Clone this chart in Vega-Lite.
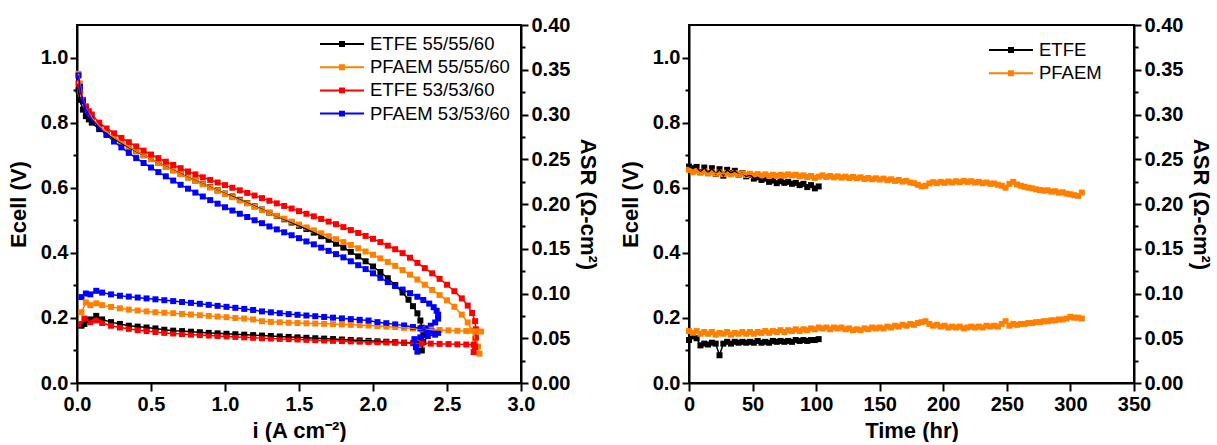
{
"$schema": "https://vega.github.io/schema/vega-lite/v6.json",
"padding": {"left": 6, "top": 14, "right": 0, "bottom": 0},
"spacing": 18,
"config": {
  "view": {"stroke": "black", "strokeWidth": 2},
  "axis": {"domainColor": "black", "domainWidth": 2, "tickColor": "black", "tickWidth": 2, "grid": false,
    "labelFont": "Liberation Sans", "labelFontWeight": "bold", "labelFontSize": 20, "labelColor": "black",
    "titleFont": "Liberation Sans", "titleFontWeight": "bold", "titleFontSize": 22, "titleColor": "black",
    "labelOverlap": false, "labelFlush": false, "labelBound": false},
  "legend": {"labelFont": "Liberation Sans", "labelFontSize": 18.5, "labelColor": "black", "title": null,
    "symbolType": "M-2,-0.09H2V0.09H-2Z M-0.27,-0.27H0.27V0.27H-0.27Z", "symbolSize": 484, "symbolStrokeWidth": 0,
    "symbolOffset": 11, "labelOffset": 17, "rowPadding": 2.2, "orient": "none"}
},
"datasets": {
"pol": [
{"s":"ETFE 55/55/60","i":0.01,"E":0.90,"k":0},{"s":"ETFE 55/55/60","i":0.02,"E":0.87,"k":1},{"s":"ETFE 55/55/60","i":0.04,"E":0.84,"k":2},{"s":"ETFE 55/55/60","i":0.06,"E":0.82,"k":3},{"s":"ETFE 55/55/60","i":0.08,"E":0.81,"k":4},{"s":"ETFE 55/55/60","i":0.10,"E":0.80,"k":5},{"s":"ETFE 55/55/60","i":0.15,"E":0.78,"k":6},{"s":"ETFE 55/55/60","i":0.20,"E":0.765,"k":7},{"s":"ETFE 55/55/60","i":0.25,"E":0.75,"k":8},{"s":"ETFE 55/55/60","i":0.30,"E":0.737,"k":9},{"s":"ETFE 55/55/60","i":0.35,"E":0.724,"k":10},{"s":"ETFE 55/55/60","i":0.40,"E":0.712,"k":11},{"s":"ETFE 55/55/60","i":0.45,"E":0.70,"k":12},{"s":"ETFE 55/55/60","i":0.50,"E":0.688,"k":13},{"s":"ETFE 55/55/60","i":0.55,"E":0.676,"k":14},{"s":"ETFE 55/55/60","i":0.60,"E":0.665,"k":15},{"s":"ETFE 55/55/60","i":0.65,"E":0.654,"k":16},{"s":"ETFE 55/55/60","i":0.70,"E":0.643,"k":17},{"s":"ETFE 55/55/60","i":0.75,"E":0.632,"k":18},{"s":"ETFE 55/55/60","i":0.80,"E":0.622,"k":19},{"s":"ETFE 55/55/60","i":0.85,"E":0.612,"k":20},{"s":"ETFE 55/55/60","i":0.90,"E":0.602,"k":21},{"s":"ETFE 55/55/60","i":0.95,"E":0.592,"k":22},{"s":"ETFE 55/55/60","i":1.00,"E":0.582,"k":23},{"s":"ETFE 55/55/60","i":1.05,"E":0.573,"k":24},{"s":"ETFE 55/55/60","i":1.10,"E":0.563,"k":25},{"s":"ETFE 55/55/60","i":1.15,"E":0.553,"k":26},{"s":"ETFE 55/55/60","i":1.20,"E":0.543,"k":27},{"s":"ETFE 55/55/60","i":1.25,"E":0.533,"k":28},{"s":"ETFE 55/55/60","i":1.30,"E":0.523,"k":29},{"s":"ETFE 55/55/60","i":1.35,"E":0.513,"k":30},{"s":"ETFE 55/55/60","i":1.40,"E":0.503,"k":31},{"s":"ETFE 55/55/60","i":1.45,"E":0.493,"k":32},{"s":"ETFE 55/55/60","i":1.50,"E":0.483,"k":33},{"s":"ETFE 55/55/60","i":1.55,"E":0.473,"k":34},{"s":"ETFE 55/55/60","i":1.60,"E":0.462,"k":35},{"s":"ETFE 55/55/60","i":1.65,"E":0.451,"k":36},{"s":"ETFE 55/55/60","i":1.70,"E":0.440,"k":37},{"s":"ETFE 55/55/60","i":1.75,"E":0.428,"k":38},{"s":"ETFE 55/55/60","i":1.80,"E":0.416,"k":39},{"s":"ETFE 55/55/60","i":1.85,"E":0.403,"k":40},{"s":"ETFE 55/55/60","i":1.90,"E":0.389,"k":41},{"s":"ETFE 55/55/60","i":1.95,"E":0.374,"k":42},{"s":"ETFE 55/55/60","i":2.00,"E":0.358,"k":43},{"s":"ETFE 55/55/60","i":2.05,"E":0.341,"k":44},{"s":"ETFE 55/55/60","i":2.10,"E":0.322,"k":45},{"s":"ETFE 55/55/60","i":2.15,"E":0.301,"k":46},{"s":"ETFE 55/55/60","i":2.20,"E":0.278,"k":47},{"s":"ETFE 55/55/60","i":2.24,"E":0.256,"k":48},{"s":"ETFE 55/55/60","i":2.27,"E":0.236,"k":49},{"s":"ETFE 55/55/60","i":2.30,"E":0.214,"k":50},{"s":"ETFE 55/55/60","i":2.32,"E":0.192,"k":51},{"s":"ETFE 55/55/60","i":2.33,"E":0.170,"k":52},{"s":"ETFE 55/55/60","i":2.34,"E":0.148,"k":53},{"s":"ETFE 55/55/60","i":2.34,"E":0.126,"k":54},{"s":"ETFE 55/55/60","i":2.33,"E":0.100,"k":55},
{"s":"PFAEM 55/55/60","i":0.01,"E":0.95,"k":0},{"s":"PFAEM 55/55/60","i":0.02,"E":0.92,"k":1},{"s":"PFAEM 55/55/60","i":0.04,"E":0.87,"k":2},{"s":"PFAEM 55/55/60","i":0.06,"E":0.845,"k":3},{"s":"PFAEM 55/55/60","i":0.08,"E":0.83,"k":4},{"s":"PFAEM 55/55/60","i":0.10,"E":0.815,"k":5},{"s":"PFAEM 55/55/60","i":0.15,"E":0.79,"k":6},{"s":"PFAEM 55/55/60","i":0.20,"E":0.772,"k":7},{"s":"PFAEM 55/55/60","i":0.25,"E":0.755,"k":8},{"s":"PFAEM 55/55/60","i":0.30,"E":0.74,"k":9},{"s":"PFAEM 55/55/60","i":0.35,"E":0.726,"k":10},{"s":"PFAEM 55/55/60","i":0.40,"E":0.713,"k":11},{"s":"PFAEM 55/55/60","i":0.45,"E":0.70,"k":12},{"s":"PFAEM 55/55/60","i":0.50,"E":0.688,"k":13},{"s":"PFAEM 55/55/60","i":0.55,"E":0.676,"k":14},{"s":"PFAEM 55/55/60","i":0.60,"E":0.664,"k":15},{"s":"PFAEM 55/55/60","i":0.65,"E":0.653,"k":16},{"s":"PFAEM 55/55/60","i":0.70,"E":0.642,"k":17},{"s":"PFAEM 55/55/60","i":0.75,"E":0.631,"k":18},{"s":"PFAEM 55/55/60","i":0.80,"E":0.621,"k":19},{"s":"PFAEM 55/55/60","i":0.85,"E":0.611,"k":20},{"s":"PFAEM 55/55/60","i":0.90,"E":0.601,"k":21},{"s":"PFAEM 55/55/60","i":0.95,"E":0.591,"k":22},{"s":"PFAEM 55/55/60","i":1.00,"E":0.581,"k":23},{"s":"PFAEM 55/55/60","i":1.05,"E":0.571,"k":24},{"s":"PFAEM 55/55/60","i":1.10,"E":0.561,"k":25},{"s":"PFAEM 55/55/60","i":1.15,"E":0.552,"k":26},{"s":"PFAEM 55/55/60","i":1.20,"E":0.542,"k":27},{"s":"PFAEM 55/55/60","i":1.25,"E":0.532,"k":28},{"s":"PFAEM 55/55/60","i":1.30,"E":0.523,"k":29},{"s":"PFAEM 55/55/60","i":1.35,"E":0.514,"k":30},{"s":"PFAEM 55/55/60","i":1.40,"E":0.505,"k":31},{"s":"PFAEM 55/55/60","i":1.45,"E":0.496,"k":32},{"s":"PFAEM 55/55/60","i":1.50,"E":0.487,"k":33},{"s":"PFAEM 55/55/60","i":1.55,"E":0.478,"k":34},{"s":"PFAEM 55/55/60","i":1.60,"E":0.469,"k":35},{"s":"PFAEM 55/55/60","i":1.65,"E":0.46,"k":36},{"s":"PFAEM 55/55/60","i":1.70,"E":0.451,"k":37},{"s":"PFAEM 55/55/60","i":1.75,"E":0.442,"k":38},{"s":"PFAEM 55/55/60","i":1.80,"E":0.433,"k":39},{"s":"PFAEM 55/55/60","i":1.85,"E":0.424,"k":40},{"s":"PFAEM 55/55/60","i":1.90,"E":0.414,"k":41},{"s":"PFAEM 55/55/60","i":1.95,"E":0.404,"k":42},{"s":"PFAEM 55/55/60","i":2.00,"E":0.394,"k":43},{"s":"PFAEM 55/55/60","i":2.05,"E":0.383,"k":44},{"s":"PFAEM 55/55/60","i":2.10,"E":0.372,"k":45},{"s":"PFAEM 55/55/60","i":2.15,"E":0.36,"k":46},{"s":"PFAEM 55/55/60","i":2.20,"E":0.347,"k":47},{"s":"PFAEM 55/55/60","i":2.25,"E":0.333,"k":48},{"s":"PFAEM 55/55/60","i":2.30,"E":0.318,"k":49},{"s":"PFAEM 55/55/60","i":2.35,"E":0.302,"k":50},{"s":"PFAEM 55/55/60","i":2.40,"E":0.286,"k":51},{"s":"PFAEM 55/55/60","i":2.45,"E":0.27,"k":52},{"s":"PFAEM 55/55/60","i":2.50,"E":0.254,"k":53},{"s":"PFAEM 55/55/60","i":2.55,"E":0.234,"k":54},{"s":"PFAEM 55/55/60","i":2.60,"E":0.21,"k":55},{"s":"PFAEM 55/55/60","i":2.64,"E":0.186,"k":56},{"s":"PFAEM 55/55/60","i":2.67,"E":0.161,"k":57},{"s":"PFAEM 55/55/60","i":2.69,"E":0.136,"k":58},{"s":"PFAEM 55/55/60","i":2.71,"E":0.112,"k":59},{"s":"PFAEM 55/55/60","i":2.72,"E":0.09,"k":60},
{"s":"ETFE 53/53/60","i":0.01,"E":0.92,"k":0},{"s":"ETFE 53/53/60","i":0.02,"E":0.895,"k":1},{"s":"ETFE 53/53/60","i":0.04,"E":0.87,"k":2},{"s":"ETFE 53/53/60","i":0.06,"E":0.85,"k":3},{"s":"ETFE 53/53/60","i":0.08,"E":0.835,"k":4},{"s":"ETFE 53/53/60","i":0.10,"E":0.825,"k":5},{"s":"ETFE 53/53/60","i":0.15,"E":0.80,"k":6},{"s":"ETFE 53/53/60","i":0.20,"E":0.782,"k":7},{"s":"ETFE 53/53/60","i":0.25,"E":0.767,"k":8},{"s":"ETFE 53/53/60","i":0.30,"E":0.753,"k":9},{"s":"ETFE 53/53/60","i":0.35,"E":0.74,"k":10},{"s":"ETFE 53/53/60","i":0.40,"E":0.727,"k":11},{"s":"ETFE 53/53/60","i":0.45,"E":0.714,"k":12},{"s":"ETFE 53/53/60","i":0.50,"E":0.702,"k":13},{"s":"ETFE 53/53/60","i":0.55,"E":0.691,"k":14},{"s":"ETFE 53/53/60","i":0.60,"E":0.68,"k":15},{"s":"ETFE 53/53/60","i":0.65,"E":0.67,"k":16},{"s":"ETFE 53/53/60","i":0.70,"E":0.66,"k":17},{"s":"ETFE 53/53/60","i":0.75,"E":0.65,"k":18},{"s":"ETFE 53/53/60","i":0.80,"E":0.641,"k":19},{"s":"ETFE 53/53/60","i":0.85,"E":0.632,"k":20},{"s":"ETFE 53/53/60","i":0.90,"E":0.624,"k":21},{"s":"ETFE 53/53/60","i":0.95,"E":0.616,"k":22},{"s":"ETFE 53/53/60","i":1.00,"E":0.608,"k":23},{"s":"ETFE 53/53/60","i":1.05,"E":0.60,"k":24},{"s":"ETFE 53/53/60","i":1.10,"E":0.592,"k":25},{"s":"ETFE 53/53/60","i":1.15,"E":0.584,"k":26},{"s":"ETFE 53/53/60","i":1.20,"E":0.576,"k":27},{"s":"ETFE 53/53/60","i":1.25,"E":0.568,"k":28},{"s":"ETFE 53/53/60","i":1.30,"E":0.56,"k":29},{"s":"ETFE 53/53/60","i":1.35,"E":0.552,"k":30},{"s":"ETFE 53/53/60","i":1.40,"E":0.544,"k":31},{"s":"ETFE 53/53/60","i":1.45,"E":0.536,"k":32},{"s":"ETFE 53/53/60","i":1.50,"E":0.528,"k":33},{"s":"ETFE 53/53/60","i":1.55,"E":0.52,"k":34},{"s":"ETFE 53/53/60","i":1.60,"E":0.512,"k":35},{"s":"ETFE 53/53/60","i":1.65,"E":0.504,"k":36},{"s":"ETFE 53/53/60","i":1.70,"E":0.496,"k":37},{"s":"ETFE 53/53/60","i":1.75,"E":0.488,"k":38},{"s":"ETFE 53/53/60","i":1.80,"E":0.479,"k":39},{"s":"ETFE 53/53/60","i":1.85,"E":0.47,"k":40},{"s":"ETFE 53/53/60","i":1.90,"E":0.461,"k":41},{"s":"ETFE 53/53/60","i":1.95,"E":0.452,"k":42},{"s":"ETFE 53/53/60","i":2.00,"E":0.443,"k":43},{"s":"ETFE 53/53/60","i":2.05,"E":0.433,"k":44},{"s":"ETFE 53/53/60","i":2.10,"E":0.422,"k":45},{"s":"ETFE 53/53/60","i":2.15,"E":0.411,"k":46},{"s":"ETFE 53/53/60","i":2.20,"E":0.399,"k":47},{"s":"ETFE 53/53/60","i":2.25,"E":0.385,"k":48},{"s":"ETFE 53/53/60","i":2.30,"E":0.369,"k":49},{"s":"ETFE 53/53/60","i":2.35,"E":0.353,"k":50},{"s":"ETFE 53/53/60","i":2.40,"E":0.337,"k":51},{"s":"ETFE 53/53/60","i":2.45,"E":0.32,"k":52},{"s":"ETFE 53/53/60","i":2.50,"E":0.302,"k":53},{"s":"ETFE 53/53/60","i":2.55,"E":0.282,"k":54},{"s":"ETFE 53/53/60","i":2.60,"E":0.26,"k":55},{"s":"ETFE 53/53/60","i":2.64,"E":0.238,"k":56},{"s":"ETFE 53/53/60","i":2.67,"E":0.215,"k":57},{"s":"ETFE 53/53/60","i":2.69,"E":0.19,"k":58},{"s":"ETFE 53/53/60","i":2.695,"E":0.165,"k":59},{"s":"ETFE 53/53/60","i":2.695,"E":0.14,"k":60},{"s":"ETFE 53/53/60","i":2.69,"E":0.115,"k":61},{"s":"ETFE 53/53/60","i":2.68,"E":0.095,"k":62},
{"s":"PFAEM 53/53/60","i":0.01,"E":0.945,"k":0},{"s":"PFAEM 53/53/60","i":0.02,"E":0.91,"k":1},{"s":"PFAEM 53/53/60","i":0.04,"E":0.865,"k":2},{"s":"PFAEM 53/53/60","i":0.06,"E":0.84,"k":3},{"s":"PFAEM 53/53/60","i":0.08,"E":0.825,"k":4},{"s":"PFAEM 53/53/60","i":0.10,"E":0.81,"k":5},{"s":"PFAEM 53/53/60","i":0.15,"E":0.785,"k":6},{"s":"PFAEM 53/53/60","i":0.20,"E":0.762,"k":7},{"s":"PFAEM 53/53/60","i":0.25,"E":0.742,"k":8},{"s":"PFAEM 53/53/60","i":0.30,"E":0.724,"k":9},{"s":"PFAEM 53/53/60","i":0.35,"E":0.707,"k":10},{"s":"PFAEM 53/53/60","i":0.40,"E":0.691,"k":11},{"s":"PFAEM 53/53/60","i":0.45,"E":0.676,"k":12},{"s":"PFAEM 53/53/60","i":0.50,"E":0.662,"k":13},{"s":"PFAEM 53/53/60","i":0.55,"E":0.648,"k":14},{"s":"PFAEM 53/53/60","i":0.60,"E":0.635,"k":15},{"s":"PFAEM 53/53/60","i":0.65,"E":0.622,"k":16},{"s":"PFAEM 53/53/60","i":0.70,"E":0.609,"k":17},{"s":"PFAEM 53/53/60","i":0.75,"E":0.597,"k":18},{"s":"PFAEM 53/53/60","i":0.80,"E":0.585,"k":19},{"s":"PFAEM 53/53/60","i":0.85,"E":0.573,"k":20},{"s":"PFAEM 53/53/60","i":0.90,"E":0.562,"k":21},{"s":"PFAEM 53/53/60","i":0.95,"E":0.551,"k":22},{"s":"PFAEM 53/53/60","i":1.00,"E":0.540,"k":23},{"s":"PFAEM 53/53/60","i":1.05,"E":0.530,"k":24},{"s":"PFAEM 53/53/60","i":1.10,"E":0.520,"k":25},{"s":"PFAEM 53/53/60","i":1.15,"E":0.510,"k":26},{"s":"PFAEM 53/53/60","i":1.20,"E":0.500,"k":27},{"s":"PFAEM 53/53/60","i":1.25,"E":0.491,"k":28},{"s":"PFAEM 53/53/60","i":1.30,"E":0.481,"k":29},{"s":"PFAEM 53/53/60","i":1.35,"E":0.472,"k":30},{"s":"PFAEM 53/53/60","i":1.40,"E":0.463,"k":31},{"s":"PFAEM 53/53/60","i":1.45,"E":0.454,"k":32},{"s":"PFAEM 53/53/60","i":1.50,"E":0.445,"k":33},{"s":"PFAEM 53/53/60","i":1.55,"E":0.435,"k":34},{"s":"PFAEM 53/53/60","i":1.60,"E":0.426,"k":35},{"s":"PFAEM 53/53/60","i":1.65,"E":0.416,"k":36},{"s":"PFAEM 53/53/60","i":1.70,"E":0.406,"k":37},{"s":"PFAEM 53/53/60","i":1.75,"E":0.396,"k":38},{"s":"PFAEM 53/53/60","i":1.80,"E":0.386,"k":39},{"s":"PFAEM 53/53/60","i":1.85,"E":0.374,"k":40},{"s":"PFAEM 53/53/60","i":1.90,"E":0.362,"k":41},{"s":"PFAEM 53/53/60","i":1.95,"E":0.350,"k":42},{"s":"PFAEM 53/53/60","i":2.00,"E":0.337,"k":43},{"s":"PFAEM 53/53/60","i":2.05,"E":0.323,"k":44},{"s":"PFAEM 53/53/60","i":2.10,"E":0.310,"k":45},{"s":"PFAEM 53/53/60","i":2.15,"E":0.298,"k":46},{"s":"PFAEM 53/53/60","i":2.20,"E":0.287,"k":47},{"s":"PFAEM 53/53/60","i":2.25,"E":0.276,"k":48},{"s":"PFAEM 53/53/60","i":2.30,"E":0.265,"k":49},{"s":"PFAEM 53/53/60","i":2.34,"E":0.255,"k":50},{"s":"PFAEM 53/53/60","i":2.38,"E":0.244,"k":51},{"s":"PFAEM 53/53/60","i":2.41,"E":0.233,"k":52},{"s":"PFAEM 53/53/60","i":2.43,"E":0.222,"k":53},{"s":"PFAEM 53/53/60","i":2.44,"E":0.210,"k":54},{"s":"PFAEM 53/53/60","i":2.44,"E":0.198,"k":55},{"s":"PFAEM 53/53/60","i":2.42,"E":0.186,"k":56},{"s":"PFAEM 53/53/60","i":2.39,"E":0.176,"k":57},{"s":"PFAEM 53/53/60","i":2.36,"E":0.168,"k":58}
],
"asr": [
{"s":"ETFE 55/55/60","i":0.03,"A":0.064,"k":0},{"s":"ETFE 55/55/60","i":0.05,"A":0.066,"k":1},{"s":"ETFE 55/55/60","i":0.09,"A":0.071,"k":2},{"s":"ETFE 55/55/60","i":0.13,"A":0.075,"k":3},{"s":"ETFE 55/55/60","i":0.17,"A":0.071,"k":4},{"s":"ETFE 55/55/60","i":0.23,"A":0.068,"k":5},{"s":"ETFE 55/55/60","i":0.29,"A":0.066,"k":6},{"s":"ETFE 55/55/60","i":0.35,"A":0.064,"k":7},{"s":"ETFE 55/55/60","i":0.41,"A":0.063,"k":8},{"s":"ETFE 55/55/60","i":0.47,"A":0.062,"k":9},{"s":"ETFE 55/55/60","i":0.53,"A":0.061,"k":10},{"s":"ETFE 55/55/60","i":0.59,"A":0.0595,"k":11},{"s":"ETFE 55/55/60","i":0.65,"A":0.0585,"k":12},{"s":"ETFE 55/55/60","i":0.71,"A":0.058,"k":13},{"s":"ETFE 55/55/60","i":0.77,"A":0.0573,"k":14},{"s":"ETFE 55/55/60","i":0.83,"A":0.0567,"k":15},{"s":"ETFE 55/55/60","i":0.89,"A":0.056,"k":16},{"s":"ETFE 55/55/60","i":0.95,"A":0.0555,"k":17},{"s":"ETFE 55/55/60","i":1.01,"A":0.055,"k":18},{"s":"ETFE 55/55/60","i":1.07,"A":0.0545,"k":19},{"s":"ETFE 55/55/60","i":1.13,"A":0.054,"k":20},{"s":"ETFE 55/55/60","i":1.19,"A":0.0535,"k":21},{"s":"ETFE 55/55/60","i":1.25,"A":0.053,"k":22},{"s":"ETFE 55/55/60","i":1.31,"A":0.0525,"k":23},{"s":"ETFE 55/55/60","i":1.37,"A":0.052,"k":24},{"s":"ETFE 55/55/60","i":1.43,"A":0.0515,"k":25},{"s":"ETFE 55/55/60","i":1.49,"A":0.051,"k":26},{"s":"ETFE 55/55/60","i":1.55,"A":0.0505,"k":27},{"s":"ETFE 55/55/60","i":1.61,"A":0.050,"k":28},{"s":"ETFE 55/55/60","i":1.67,"A":0.0496,"k":29},{"s":"ETFE 55/55/60","i":1.73,"A":0.0491,"k":30},{"s":"ETFE 55/55/60","i":1.79,"A":0.0486,"k":31},{"s":"ETFE 55/55/60","i":1.85,"A":0.0481,"k":32},{"s":"ETFE 55/55/60","i":1.91,"A":0.0476,"k":33},{"s":"ETFE 55/55/60","i":1.97,"A":0.0471,"k":34},{"s":"ETFE 55/55/60","i":2.03,"A":0.0466,"k":35},{"s":"ETFE 55/55/60","i":2.09,"A":0.0461,"k":36},{"s":"ETFE 55/55/60","i":2.15,"A":0.0456,"k":37},{"s":"ETFE 55/55/60","i":2.21,"A":0.0451,"k":38},{"s":"ETFE 55/55/60","i":2.27,"A":0.0446,"k":39},{"s":"ETFE 55/55/60","i":2.31,"A":0.044,"k":40},
{"s":"PFAEM 55/55/60","i":0.03,"A":0.079,"k":0},{"s":"PFAEM 55/55/60","i":0.06,"A":0.090,"k":1},{"s":"PFAEM 55/55/60","i":0.09,"A":0.087,"k":2},{"s":"PFAEM 55/55/60","i":0.13,"A":0.089,"k":3},{"s":"PFAEM 55/55/60","i":0.17,"A":0.087,"k":4},{"s":"PFAEM 55/55/60","i":0.23,"A":0.085,"k":5},{"s":"PFAEM 55/55/60","i":0.29,"A":0.0835,"k":6},{"s":"PFAEM 55/55/60","i":0.35,"A":0.082,"k":7},{"s":"PFAEM 55/55/60","i":0.41,"A":0.081,"k":8},{"s":"PFAEM 55/55/60","i":0.47,"A":0.080,"k":9},{"s":"PFAEM 55/55/60","i":0.53,"A":0.079,"k":10},{"s":"PFAEM 55/55/60","i":0.59,"A":0.0785,"k":11},{"s":"PFAEM 55/55/60","i":0.65,"A":0.078,"k":12},{"s":"PFAEM 55/55/60","i":0.71,"A":0.0772,"k":13},{"s":"PFAEM 55/55/60","i":0.77,"A":0.0765,"k":14},{"s":"PFAEM 55/55/60","i":0.83,"A":0.0757,"k":15},{"s":"PFAEM 55/55/60","i":0.89,"A":0.075,"k":16},{"s":"PFAEM 55/55/60","i":0.95,"A":0.0742,"k":17},{"s":"PFAEM 55/55/60","i":1.01,"A":0.0735,"k":18},{"s":"PFAEM 55/55/60","i":1.07,"A":0.0727,"k":19},{"s":"PFAEM 55/55/60","i":1.13,"A":0.072,"k":20},{"s":"PFAEM 55/55/60","i":1.19,"A":0.071,"k":21},{"s":"PFAEM 55/55/60","i":1.25,"A":0.069,"k":22},{"s":"PFAEM 55/55/60","i":1.31,"A":0.0683,"k":23},{"s":"PFAEM 55/55/60","i":1.37,"A":0.0678,"k":24},{"s":"PFAEM 55/55/60","i":1.43,"A":0.0673,"k":25},{"s":"PFAEM 55/55/60","i":1.49,"A":0.067,"k":26},{"s":"PFAEM 55/55/60","i":1.55,"A":0.0667,"k":27},{"s":"PFAEM 55/55/60","i":1.61,"A":0.0664,"k":28},{"s":"PFAEM 55/55/60","i":1.67,"A":0.0661,"k":29},{"s":"PFAEM 55/55/60","i":1.73,"A":0.0658,"k":30},{"s":"PFAEM 55/55/60","i":1.79,"A":0.0654,"k":31},{"s":"PFAEM 55/55/60","i":1.85,"A":0.065,"k":32},{"s":"PFAEM 55/55/60","i":1.91,"A":0.0646,"k":33},{"s":"PFAEM 55/55/60","i":1.97,"A":0.0642,"k":34},{"s":"PFAEM 55/55/60","i":2.03,"A":0.0636,"k":35},{"s":"PFAEM 55/55/60","i":2.09,"A":0.063,"k":36},{"s":"PFAEM 55/55/60","i":2.15,"A":0.0624,"k":37},{"s":"PFAEM 55/55/60","i":2.21,"A":0.0616,"k":38},{"s":"PFAEM 55/55/60","i":2.27,"A":0.0608,"k":39},{"s":"PFAEM 55/55/60","i":2.33,"A":0.060,"k":40},{"s":"PFAEM 55/55/60","i":2.39,"A":0.0596,"k":41},{"s":"PFAEM 55/55/60","i":2.45,"A":0.0592,"k":42},{"s":"PFAEM 55/55/60","i":2.51,"A":0.0588,"k":43},{"s":"PFAEM 55/55/60","i":2.57,"A":0.0584,"k":44},{"s":"PFAEM 55/55/60","i":2.63,"A":0.058,"k":45},{"s":"PFAEM 55/55/60","i":2.69,"A":0.0577,"k":46},{"s":"PFAEM 55/55/60","i":2.73,"A":0.0575,"k":47},
{"s":"ETFE 53/53/60","i":0.03,"A":0.066,"k":0},{"s":"ETFE 53/53/60","i":0.05,"A":0.072,"k":1},{"s":"ETFE 53/53/60","i":0.09,"A":0.068,"k":2},{"s":"ETFE 53/53/60","i":0.13,"A":0.070,"k":3},{"s":"ETFE 53/53/60","i":0.17,"A":0.067,"k":4},{"s":"ETFE 53/53/60","i":0.23,"A":0.064,"k":5},{"s":"ETFE 53/53/60","i":0.29,"A":0.062,"k":6},{"s":"ETFE 53/53/60","i":0.35,"A":0.0605,"k":7},{"s":"ETFE 53/53/60","i":0.41,"A":0.059,"k":8},{"s":"ETFE 53/53/60","i":0.47,"A":0.058,"k":9},{"s":"ETFE 53/53/60","i":0.53,"A":0.057,"k":10},{"s":"ETFE 53/53/60","i":0.59,"A":0.056,"k":11},{"s":"ETFE 53/53/60","i":0.65,"A":0.0553,"k":12},{"s":"ETFE 53/53/60","i":0.71,"A":0.0547,"k":13},{"s":"ETFE 53/53/60","i":0.77,"A":0.054,"k":14},{"s":"ETFE 53/53/60","i":0.83,"A":0.0535,"k":15},{"s":"ETFE 53/53/60","i":0.89,"A":0.053,"k":16},{"s":"ETFE 53/53/60","i":0.95,"A":0.0525,"k":17},{"s":"ETFE 53/53/60","i":1.01,"A":0.052,"k":18},{"s":"ETFE 53/53/60","i":1.07,"A":0.0515,"k":19},{"s":"ETFE 53/53/60","i":1.13,"A":0.051,"k":20},{"s":"ETFE 53/53/60","i":1.19,"A":0.0505,"k":21},{"s":"ETFE 53/53/60","i":1.25,"A":0.050,"k":22},{"s":"ETFE 53/53/60","i":1.31,"A":0.0497,"k":23},{"s":"ETFE 53/53/60","i":1.37,"A":0.0493,"k":24},{"s":"ETFE 53/53/60","i":1.43,"A":0.049,"k":25},{"s":"ETFE 53/53/60","i":1.49,"A":0.0486,"k":26},{"s":"ETFE 53/53/60","i":1.55,"A":0.0482,"k":27},{"s":"ETFE 53/53/60","i":1.61,"A":0.0478,"k":28},{"s":"ETFE 53/53/60","i":1.67,"A":0.0475,"k":29},{"s":"ETFE 53/53/60","i":1.73,"A":0.0471,"k":30},{"s":"ETFE 53/53/60","i":1.79,"A":0.0468,"k":31},{"s":"ETFE 53/53/60","i":1.85,"A":0.0465,"k":32},{"s":"ETFE 53/53/60","i":1.91,"A":0.0462,"k":33},{"s":"ETFE 53/53/60","i":1.97,"A":0.0459,"k":34},{"s":"ETFE 53/53/60","i":2.03,"A":0.0456,"k":35},{"s":"ETFE 53/53/60","i":2.09,"A":0.0453,"k":36},{"s":"ETFE 53/53/60","i":2.15,"A":0.045,"k":37},{"s":"ETFE 53/53/60","i":2.21,"A":0.0447,"k":38},{"s":"ETFE 53/53/60","i":2.27,"A":0.0445,"k":39},{"s":"ETFE 53/53/60","i":2.33,"A":0.0442,"k":40},{"s":"ETFE 53/53/60","i":2.39,"A":0.044,"k":41},{"s":"ETFE 53/53/60","i":2.45,"A":0.0437,"k":42},{"s":"ETFE 53/53/60","i":2.51,"A":0.0435,"k":43},{"s":"ETFE 53/53/60","i":2.57,"A":0.0432,"k":44},{"s":"ETFE 53/53/60","i":2.63,"A":0.043,"k":45},{"s":"ETFE 53/53/60","i":2.68,"A":0.0428,"k":46},{"s":"ETFE 53/53/60","i":2.69,"A":0.040,"k":47},
{"s":"PFAEM 53/53/60","i":0.03,"A":0.096,"k":0},{"s":"PFAEM 53/53/60","i":0.06,"A":0.100,"k":1},{"s":"PFAEM 53/53/60","i":0.09,"A":0.099,"k":2},{"s":"PFAEM 53/53/60","i":0.13,"A":0.103,"k":3},{"s":"PFAEM 53/53/60","i":0.17,"A":0.101,"k":4},{"s":"PFAEM 53/53/60","i":0.23,"A":0.099,"k":5},{"s":"PFAEM 53/53/60","i":0.29,"A":0.0975,"k":6},{"s":"PFAEM 53/53/60","i":0.35,"A":0.0965,"k":7},{"s":"PFAEM 53/53/60","i":0.41,"A":0.0955,"k":8},{"s":"PFAEM 53/53/60","i":0.47,"A":0.0945,"k":9},{"s":"PFAEM 53/53/60","i":0.53,"A":0.0935,"k":10},{"s":"PFAEM 53/53/60","i":0.59,"A":0.0925,"k":11},{"s":"PFAEM 53/53/60","i":0.65,"A":0.0915,"k":12},{"s":"PFAEM 53/53/60","i":0.71,"A":0.0905,"k":13},{"s":"PFAEM 53/53/60","i":0.77,"A":0.0895,"k":14},{"s":"PFAEM 53/53/60","i":0.83,"A":0.0885,"k":15},{"s":"PFAEM 53/53/60","i":0.89,"A":0.0873,"k":16},{"s":"PFAEM 53/53/60","i":0.95,"A":0.0862,"k":17},{"s":"PFAEM 53/53/60","i":1.01,"A":0.0851,"k":18},{"s":"PFAEM 53/53/60","i":1.07,"A":0.084,"k":19},{"s":"PFAEM 53/53/60","i":1.13,"A":0.0828,"k":20},{"s":"PFAEM 53/53/60","i":1.19,"A":0.0816,"k":21},{"s":"PFAEM 53/53/60","i":1.25,"A":0.080,"k":22},{"s":"PFAEM 53/53/60","i":1.31,"A":0.079,"k":23},{"s":"PFAEM 53/53/60","i":1.37,"A":0.078,"k":24},{"s":"PFAEM 53/53/60","i":1.43,"A":0.077,"k":25},{"s":"PFAEM 53/53/60","i":1.49,"A":0.0762,"k":26},{"s":"PFAEM 53/53/60","i":1.55,"A":0.0754,"k":27},{"s":"PFAEM 53/53/60","i":1.61,"A":0.0746,"k":28},{"s":"PFAEM 53/53/60","i":1.67,"A":0.0738,"k":29},{"s":"PFAEM 53/53/60","i":1.73,"A":0.073,"k":30},{"s":"PFAEM 53/53/60","i":1.79,"A":0.0722,"k":31},{"s":"PFAEM 53/53/60","i":1.85,"A":0.0714,"k":32},{"s":"PFAEM 53/53/60","i":1.91,"A":0.0706,"k":33},{"s":"PFAEM 53/53/60","i":1.97,"A":0.0698,"k":34},{"s":"PFAEM 53/53/60","i":2.03,"A":0.068,"k":35},{"s":"PFAEM 53/53/60","i":2.09,"A":0.0668,"k":36},{"s":"PFAEM 53/53/60","i":2.15,"A":0.0655,"k":37},{"s":"PFAEM 53/53/60","i":2.21,"A":0.0643,"k":38},{"s":"PFAEM 53/53/60","i":2.27,"A":0.0625,"k":39},{"s":"PFAEM 53/53/60","i":2.32,"A":0.061,"k":40},{"s":"PFAEM 53/53/60","i":2.36,"A":0.059,"k":41},{"s":"PFAEM 53/53/60","i":2.40,"A":0.0575,"k":42},{"s":"PFAEM 53/53/60","i":2.44,"A":0.056,"k":43},{"s":"PFAEM 53/53/60","i":2.42,"A":0.054,"k":44},{"s":"PFAEM 53/53/60","i":2.37,"A":0.0525,"k":45},{"s":"PFAEM 53/53/60","i":2.32,"A":0.051,"k":46},{"s":"PFAEM 53/53/60","i":2.28,"A":0.049,"k":47},{"s":"PFAEM 53/53/60","i":2.28,"A":0.045,"k":48},{"s":"PFAEM 53/53/60","i":2.29,"A":0.040,"k":49},{"s":"PFAEM 53/53/60","i":2.30,"A":0.035,"k":50}
],
"tE": [
{"s":"ETFE","t":0,"E":0.665},{"s":"ETFE","t":3,"E":0.66},{"s":"ETFE","t":6,"E":0.664},{"s":"ETFE","t":9,"E":0.648},{"s":"ETFE","t":12,"E":0.662},{"s":"ETFE","t":15,"E":0.645},{"s":"ETFE","t":18,"E":0.66},{"s":"ETFE","t":21,"E":0.642},{"s":"ETFE","t":24,"E":0.657},{"s":"ETFE","t":27,"E":0.637},{"s":"ETFE","t":30,"E":0.655},{"s":"ETFE","t":33,"E":0.645},{"s":"ETFE","t":36,"E":0.652},{"s":"ETFE","t":39,"E":0.64},{"s":"ETFE","t":42,"E":0.645},{"s":"ETFE","t":45,"E":0.635},{"s":"ETFE","t":48,"E":0.64},{"s":"ETFE","t":51,"E":0.628},{"s":"ETFE","t":54,"E":0.632},{"s":"ETFE","t":57,"E":0.624},{"s":"ETFE","t":60,"E":0.628},{"s":"ETFE","t":63,"E":0.618},{"s":"ETFE","t":66,"E":0.622},{"s":"ETFE","t":69,"E":0.614},{"s":"ETFE","t":72,"E":0.62},{"s":"ETFE","t":75,"E":0.615},{"s":"ETFE","t":78,"E":0.618},{"s":"ETFE","t":81,"E":0.612},{"s":"ETFE","t":84,"E":0.615},{"s":"ETFE","t":87,"E":0.608},{"s":"ETFE","t":90,"E":0.612},{"s":"ETFE","t":93,"E":0.602},{"s":"ETFE","t":96,"E":0.608},{"s":"ETFE","t":99,"E":0.598},{"s":"ETFE","t":102,"E":0.604},
{"s":"PFAEM","t":0,"E":0.655},{"s":"PFAEM","t":3,"E":0.648},{"s":"PFAEM","t":6,"E":0.652},{"s":"PFAEM","t":9,"E":0.646},{"s":"PFAEM","t":12,"E":0.650},{"s":"PFAEM","t":15,"E":0.644},{"s":"PFAEM","t":18,"E":0.649},{"s":"PFAEM","t":21,"E":0.643},{"s":"PFAEM","t":24,"E":0.647},{"s":"PFAEM","t":27,"E":0.642},{"s":"PFAEM","t":30,"E":0.646},{"s":"PFAEM","t":33,"E":0.641},{"s":"PFAEM","t":36,"E":0.645},{"s":"PFAEM","t":39,"E":0.640},{"s":"PFAEM","t":42,"E":0.644},{"s":"PFAEM","t":45,"E":0.639},{"s":"PFAEM","t":48,"E":0.643},{"s":"PFAEM","t":51,"E":0.638},{"s":"PFAEM","t":54,"E":0.642},{"s":"PFAEM","t":57,"E":0.637},{"s":"PFAEM","t":60,"E":0.641},{"s":"PFAEM","t":63,"E":0.636},{"s":"PFAEM","t":66,"E":0.640},{"s":"PFAEM","t":69,"E":0.636},{"s":"PFAEM","t":72,"E":0.640},{"s":"PFAEM","t":75,"E":0.637},{"s":"PFAEM","t":78,"E":0.641},{"s":"PFAEM","t":81,"E":0.638},{"s":"PFAEM","t":84,"E":0.640},{"s":"PFAEM","t":87,"E":0.635},{"s":"PFAEM","t":90,"E":0.638},{"s":"PFAEM","t":93,"E":0.633},{"s":"PFAEM","t":96,"E":0.636},{"s":"PFAEM","t":99,"E":0.630},{"s":"PFAEM","t":102,"E":0.634},{"s":"PFAEM","t":105,"E":0.638},{"s":"PFAEM","t":108,"E":0.633},{"s":"PFAEM","t":111,"E":0.636},{"s":"PFAEM","t":114,"E":0.632},{"s":"PFAEM","t":117,"E":0.635},{"s":"PFAEM","t":120,"E":0.631},{"s":"PFAEM","t":123,"E":0.634},{"s":"PFAEM","t":126,"E":0.630},{"s":"PFAEM","t":129,"E":0.633},{"s":"PFAEM","t":132,"E":0.629},{"s":"PFAEM","t":135,"E":0.632},{"s":"PFAEM","t":138,"E":0.627},{"s":"PFAEM","t":141,"E":0.630},{"s":"PFAEM","t":144,"E":0.626},{"s":"PFAEM","t":147,"E":0.629},{"s":"PFAEM","t":150,"E":0.625},{"s":"PFAEM","t":153,"E":0.628},{"s":"PFAEM","t":156,"E":0.623},{"s":"PFAEM","t":159,"E":0.626},{"s":"PFAEM","t":162,"E":0.621},{"s":"PFAEM","t":165,"E":0.624},{"s":"PFAEM","t":168,"E":0.619},{"s":"PFAEM","t":171,"E":0.621},{"s":"PFAEM","t":174,"E":0.616},{"s":"PFAEM","t":177,"E":0.614},{"s":"PFAEM","t":180,"E":0.609},{"s":"PFAEM","t":183,"E":0.604},{"s":"PFAEM","t":186,"E":0.606},{"s":"PFAEM","t":189,"E":0.613},{"s":"PFAEM","t":192,"E":0.617},{"s":"PFAEM","t":195,"E":0.614},{"s":"PFAEM","t":198,"E":0.618},{"s":"PFAEM","t":201,"E":0.615},{"s":"PFAEM","t":204,"E":0.619},{"s":"PFAEM","t":207,"E":0.616},{"s":"PFAEM","t":210,"E":0.620},{"s":"PFAEM","t":213,"E":0.617},{"s":"PFAEM","t":216,"E":0.621},{"s":"PFAEM","t":219,"E":0.618},{"s":"PFAEM","t":222,"E":0.620},{"s":"PFAEM","t":225,"E":0.616},{"s":"PFAEM","t":228,"E":0.618},{"s":"PFAEM","t":231,"E":0.614},{"s":"PFAEM","t":234,"E":0.616},{"s":"PFAEM","t":237,"E":0.612},{"s":"PFAEM","t":240,"E":0.613},{"s":"PFAEM","t":243,"E":0.609},{"s":"PFAEM","t":246,"E":0.606},{"s":"PFAEM","t":249,"E":0.600},{"s":"PFAEM","t":252,"E":0.612},{"s":"PFAEM","t":255,"E":0.618},{"s":"PFAEM","t":258,"E":0.610},{"s":"PFAEM","t":261,"E":0.606},{"s":"PFAEM","t":264,"E":0.603},{"s":"PFAEM","t":267,"E":0.600},{"s":"PFAEM","t":270,"E":0.598},{"s":"PFAEM","t":273,"E":0.595},{"s":"PFAEM","t":276,"E":0.593},{"s":"PFAEM","t":279,"E":0.591},{"s":"PFAEM","t":282,"E":0.592},{"s":"PFAEM","t":285,"E":0.588},{"s":"PFAEM","t":288,"E":0.589},{"s":"PFAEM","t":291,"E":0.585},{"s":"PFAEM","t":294,"E":0.586},{"s":"PFAEM","t":297,"E":0.582},{"s":"PFAEM","t":300,"E":0.580},{"s":"PFAEM","t":303,"E":0.577},{"s":"PFAEM","t":306,"E":0.575},{"s":"PFAEM","t":309,"E":0.585}
],
"tA": [
{"s":"ETFE","t":0,"A":0.048},{"s":"ETFE","t":3,"A":0.052},{"s":"ETFE","t":6,"A":0.05},{"s":"ETFE","t":9,"A":0.042},{"s":"ETFE","t":12,"A":0.044},{"s":"ETFE","t":15,"A":0.043},{"s":"ETFE","t":18,"A":0.045},{"s":"ETFE","t":21,"A":0.044},{"s":"ETFE","t":24,"A":0.031},{"s":"ETFE","t":27,"A":0.044},{"s":"ETFE","t":30,"A":0.046},{"s":"ETFE","t":33,"A":0.044},{"s":"ETFE","t":36,"A":0.046},{"s":"ETFE","t":39,"A":0.045},{"s":"ETFE","t":42,"A":0.046},{"s":"ETFE","t":45,"A":0.045},{"s":"ETFE","t":48,"A":0.046},{"s":"ETFE","t":51,"A":0.045},{"s":"ETFE","t":54,"A":0.047},{"s":"ETFE","t":57,"A":0.045},{"s":"ETFE","t":60,"A":0.046},{"s":"ETFE","t":63,"A":0.045},{"s":"ETFE","t":66,"A":0.047},{"s":"ETFE","t":69,"A":0.046},{"s":"ETFE","t":72,"A":0.047},{"s":"ETFE","t":75,"A":0.046},{"s":"ETFE","t":78,"A":0.047},{"s":"ETFE","t":81,"A":0.046},{"s":"ETFE","t":84,"A":0.048},{"s":"ETFE","t":87,"A":0.047},{"s":"ETFE","t":90,"A":0.048},{"s":"ETFE","t":93,"A":0.047},{"s":"ETFE","t":96,"A":0.048},{"s":"ETFE","t":99,"A":0.048},{"s":"ETFE","t":102,"A":0.049},
{"s":"PFAEM","t":0,"A":0.058},{"s":"PFAEM","t":3,"A":0.056},{"s":"PFAEM","t":6,"A":0.058},{"s":"PFAEM","t":9,"A":0.055},{"s":"PFAEM","t":12,"A":0.057},{"s":"PFAEM","t":15,"A":0.055},{"s":"PFAEM","t":18,"A":0.057},{"s":"PFAEM","t":21,"A":0.054},{"s":"PFAEM","t":24,"A":0.056},{"s":"PFAEM","t":27,"A":0.055},{"s":"PFAEM","t":30,"A":0.057},{"s":"PFAEM","t":33,"A":0.054},{"s":"PFAEM","t":36,"A":0.056},{"s":"PFAEM","t":39,"A":0.055},{"s":"PFAEM","t":42,"A":0.057},{"s":"PFAEM","t":45,"A":0.055},{"s":"PFAEM","t":48,"A":0.057},{"s":"PFAEM","t":51,"A":0.055},{"s":"PFAEM","t":54,"A":0.057},{"s":"PFAEM","t":57,"A":0.056},{"s":"PFAEM","t":60,"A":0.058},{"s":"PFAEM","t":63,"A":0.056},{"s":"PFAEM","t":66,"A":0.058},{"s":"PFAEM","t":69,"A":0.057},{"s":"PFAEM","t":72,"A":0.059},{"s":"PFAEM","t":75,"A":0.057},{"s":"PFAEM","t":78,"A":0.059},{"s":"PFAEM","t":81,"A":0.058},{"s":"PFAEM","t":84,"A":0.060},{"s":"PFAEM","t":87,"A":0.058},{"s":"PFAEM","t":90,"A":0.060},{"s":"PFAEM","t":93,"A":0.059},{"s":"PFAEM","t":96,"A":0.061},{"s":"PFAEM","t":99,"A":0.060},{"s":"PFAEM","t":102,"A":0.062},{"s":"PFAEM","t":105,"A":0.061},{"s":"PFAEM","t":108,"A":0.062},{"s":"PFAEM","t":111,"A":0.060},{"s":"PFAEM","t":114,"A":0.062},{"s":"PFAEM","t":117,"A":0.061},{"s":"PFAEM","t":120,"A":0.062},{"s":"PFAEM","t":123,"A":0.060},{"s":"PFAEM","t":126,"A":0.061},{"s":"PFAEM","t":129,"A":0.059},{"s":"PFAEM","t":132,"A":0.060},{"s":"PFAEM","t":135,"A":0.059},{"s":"PFAEM","t":138,"A":0.061},{"s":"PFAEM","t":141,"A":0.060},{"s":"PFAEM","t":144,"A":0.062},{"s":"PFAEM","t":147,"A":0.061},{"s":"PFAEM","t":150,"A":0.062},{"s":"PFAEM","t":153,"A":0.061},{"s":"PFAEM","t":156,"A":0.063},{"s":"PFAEM","t":159,"A":0.062},{"s":"PFAEM","t":162,"A":0.064},{"s":"PFAEM","t":165,"A":0.063},{"s":"PFAEM","t":168,"A":0.065},{"s":"PFAEM","t":171,"A":0.064},{"s":"PFAEM","t":174,"A":0.066},{"s":"PFAEM","t":177,"A":0.065},{"s":"PFAEM","t":180,"A":0.067},{"s":"PFAEM","t":183,"A":0.068},{"s":"PFAEM","t":186,"A":0.069},{"s":"PFAEM","t":189,"A":0.066},{"s":"PFAEM","t":192,"A":0.064},{"s":"PFAEM","t":195,"A":0.065},{"s":"PFAEM","t":198,"A":0.063},{"s":"PFAEM","t":201,"A":0.064},{"s":"PFAEM","t":204,"A":0.062},{"s":"PFAEM","t":207,"A":0.063},{"s":"PFAEM","t":210,"A":0.062},{"s":"PFAEM","t":213,"A":0.063},{"s":"PFAEM","t":216,"A":0.061},{"s":"PFAEM","t":219,"A":0.062},{"s":"PFAEM","t":222,"A":0.063},{"s":"PFAEM","t":225,"A":0.062},{"s":"PFAEM","t":228,"A":0.063},{"s":"PFAEM","t":231,"A":0.062},{"s":"PFAEM","t":234,"A":0.064},{"s":"PFAEM","t":237,"A":0.063},{"s":"PFAEM","t":240,"A":0.064},{"s":"PFAEM","t":243,"A":0.063},{"s":"PFAEM","t":246,"A":0.066},{"s":"PFAEM","t":249,"A":0.069},{"s":"PFAEM","t":252,"A":0.064},{"s":"PFAEM","t":255,"A":0.066},{"s":"PFAEM","t":258,"A":0.065},{"s":"PFAEM","t":261,"A":0.066},{"s":"PFAEM","t":264,"A":0.066},{"s":"PFAEM","t":267,"A":0.067},{"s":"PFAEM","t":270,"A":0.067},{"s":"PFAEM","t":273,"A":0.068},{"s":"PFAEM","t":276,"A":0.068},{"s":"PFAEM","t":279,"A":0.069},{"s":"PFAEM","t":282,"A":0.069},{"s":"PFAEM","t":285,"A":0.070},{"s":"PFAEM","t":288,"A":0.070},{"s":"PFAEM","t":291,"A":0.071},{"s":"PFAEM","t":294,"A":0.071},{"s":"PFAEM","t":297,"A":0.072},{"s":"PFAEM","t":300,"A":0.074},{"s":"PFAEM","t":303,"A":0.073},{"s":"PFAEM","t":306,"A":0.073},{"s":"PFAEM","t":309,"A":0.072}
]
},
"hconcat": [
{
 "width": 444, "height": 358,
 "layer": [
  {
   "data": {"name": "pol"},
   "encoding": {
    "x": {"field": "i", "type": "quantitative", "title": "i (A cm⁻²)", "scale": {"domain": [0, 3]},
      "axis": {"values": [0,0.25,0.5,0.75,1,1.25,1.5,1.75,2,2.25,2.5,2.75,3], "format": ".1f",
        "labelExpr": "round(datum.value*4)%2==0 ? datum.label : ''",
        "tickSize": {"condition": {"test": "round(datum.value*4)%2==0", "value": 8}, "value": 4},
        "labelPadding": 3, "titlePadding": 6}},
    "y": {"field": "E", "type": "quantitative", "title": "Ecell (V)", "scale": {"domain": [0, 1.1]},
      "axis": {"orient": "left", "values": [0,0.1,0.2,0.3,0.4,0.5,0.6,0.7,0.8,0.9,1.0], "format": ".1f",
        "labelExpr": "round(datum.value*10)%2==0 ? datum.label : ''",
        "tickSize": {"condition": {"test": "round(datum.value*10)%2==0", "value": 7}, "value": 4},
        "labelPadding": 2, "titlePadding": 10}},
    "color": {"field": "s", "type": "nominal",
      "scale": {"domain": ["ETFE 55/55/60","PFAEM 55/55/60","ETFE 53/53/60","PFAEM 53/53/60"], "range": ["#000000","#FF8000","#FF0000","#0000FF"]},
      "legend": {"legendX": 243, "legendY": 8}},
    "order": {"field": "k", "type": "quantitative"}
   },
   "layer": [
    {"mark": {"type": "point", "shape": "square", "filled": true, "size": 36, "opacity": 1}},
    {"mark": {"type": "line", "strokeWidth": 1.5}}
   ]
  },
  {
   "data": {"name": "asr"},
   "encoding": {
    "x": {"field": "i", "type": "quantitative", "title": "i (A cm⁻²)"},
    "y": {"field": "A", "type": "quantitative", "title": "ASR (Ω-cm²)", "scale": {"domain": [0, 0.4]},
      "axis": {"orient": "right", "values": [0,0.025,0.05,0.075,0.1,0.125,0.15,0.175,0.2,0.225,0.25,0.275,0.3,0.325,0.35,0.375,0.4], "format": ".2f",
        "labelExpr": "round(datum.value*40)%2==0 ? datum.label : ''",
        "tickSize": {"condition": {"test": "round(datum.value*40)%2==0", "value": 7}, "value": 4},
        "labelPadding": 3, "titlePadding": 6}},
    "color": {"field": "s", "type": "nominal"},
    "order": {"field": "k", "type": "quantitative"}
   },
   "layer": [
    {"mark": {"type": "point", "shape": "square", "filled": true, "size": 36, "opacity": 1}},
    {"mark": {"type": "line", "strokeWidth": 1.5}}
   ]
  }
 ],
 "resolve": {"scale": {"y": "independent"}}
},
{
 "width": 445, "height": 358,
 "layer": [
  {
   "data": {"name": "tE"},
   "encoding": {
    "x": {"field": "t", "type": "quantitative", "title": "Time (hr)", "scale": {"domain": [0, 350]},
      "axis": {"values": [0,25,50,75,100,125,150,175,200,225,250,275,300,325,350], "format": "d",
        "labelExpr": "datum.value%50==0 ? datum.label : ''",
        "tickSize": {"condition": {"test": "datum.value%50==0", "value": 8}, "value": 4},
        "labelPadding": 3, "titlePadding": 6}},
    "y": {"field": "E", "type": "quantitative", "title": "Ecell (V)", "scale": {"domain": [0, 1.1]},
      "axis": {"orient": "left", "values": [0,0.1,0.2,0.3,0.4,0.5,0.6,0.7,0.8,0.9,1.0], "format": ".1f",
        "labelExpr": "round(datum.value*10)%2==0 ? datum.label : ''",
        "tickSize": {"condition": {"test": "round(datum.value*10)%2==0", "value": 7}, "value": 4},
        "labelPadding": 2, "titlePadding": 10}},
    "color": {"field": "s", "type": "nominal",
      "scale": {"domain": ["ETFE","PFAEM"], "range": ["#000000","#FF8000"]},
      "legend": {"legendX": 300, "legendY": 14}}
   },
   "layer": [
    {"mark": {"type": "point", "shape": "square", "filled": true, "size": 36, "opacity": 1}},
    {"mark": {"type": "line", "strokeWidth": 1.5}}
   ]
  },
  {
   "data": {"name": "tA"},
   "encoding": {
    "x": {"field": "t", "type": "quantitative", "title": "Time (hr)"},
    "y": {"field": "A", "type": "quantitative", "title": "ASR (Ω-cm²)", "scale": {"domain": [0, 0.4]},
      "axis": {"orient": "right", "values": [0,0.025,0.05,0.075,0.1,0.125,0.15,0.175,0.2,0.225,0.25,0.275,0.3,0.325,0.35,0.375,0.4], "format": ".2f",
        "labelExpr": "round(datum.value*40)%2==0 ? datum.label : ''",
        "tickSize": {"condition": {"test": "round(datum.value*40)%2==0", "value": 7}, "value": 4},
        "labelPadding": 3, "titlePadding": 6}},
    "color": {"field": "s", "type": "nominal"}
   },
   "layer": [
    {"mark": {"type": "point", "shape": "square", "filled": true, "size": 36, "opacity": 1}},
    {"mark": {"type": "line", "strokeWidth": 1.5}}
   ]
  }
 ],
 "resolve": {"scale": {"y": "independent"}}
}
],
"resolve": {"scale": {"color": "independent"}}
}
